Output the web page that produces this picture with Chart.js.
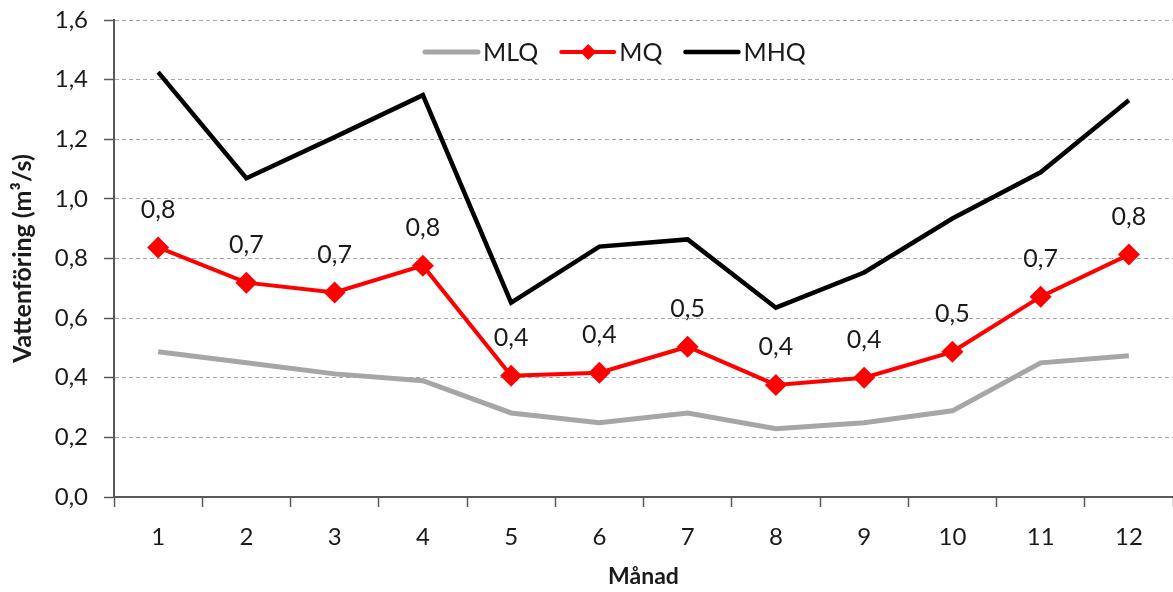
<!DOCTYPE html>
<html>
<head>
<meta charset="utf-8">
<script src="https://cdn.jsdelivr.net/npm/chart.js@4"></script>
<style>
  html, body { margin: 0; padding: 0; background: #fff; }
</style>
</head>
<body>
<canvas id="chart" width="1173" height="592"></canvas>
<script>
// Månad 1..12
const months = ['1', '2', '3', '4', '5', '6', '7', '8', '9', '10', '11', '12'];

// Vattenföring (m³/s)
const mlq = [0.487, 0.450, 0.413, 0.390, 0.282, 0.249, 0.282, 0.229, 0.249, 0.289, 0.450, 0.474];
const mq  = [0.837, 0.719, 0.686, 0.776, 0.407, 0.417, 0.504, 0.376, 0.400, 0.487, 0.672, 0.813];
const mhq = [1.425, 1.069, 1.207, 1.348, 0.652, 0.840, 0.864, 0.635, 0.753, 0.934, 1.089, 1.331];

const yTicks = [0, 0.2, 0.4, 0.6, 0.8, 1.0, 1.2, 1.4, 1.6];

const FONT = 'Lato, "Open Sans", sans-serif';
const AXIS = '#595959';

function fmt(v) {
    return v.toFixed(1).replace('.', ',');
}

// etiketter ovanför MQ-punkterna
const labelPlugin = {
    id: 'mqLabels',
    afterDatasetsDraw(chart) {
        const ctx = chart.ctx;
        const meta = chart.getDatasetMeta(1);
        ctx.save();
        ctx.font = '25px ' + FONT;
        ctx.fillStyle = '#1a1a1a';
        ctx.textAlign = 'center';
        ctx.textBaseline = 'middle';
        meta.data.forEach((pt, i) => {
            ctx.fillText(fmt(mq[i]), pt.x, pt.y - 38);
        });
        ctx.restore();
    }
};

// egen legend: linje (+ ruta för MQ) och text
const legendPlugin = {
    id: 'customLegend',
    afterDraw(chart) {
        const ctx = chart.ctx;
        const y = 52;
        let x = 425;
        ctx.save();
        ctx.font = '25px ' + FONT;
        ctx.textBaseline = 'middle';
        chart.data.datasets.forEach((ds) => {
            ctx.strokeStyle = ds.borderColor;
            ctx.lineWidth = ds.borderWidth;
            ctx.lineCap = 'round';
            ctx.beginPath();
            ctx.moveTo(x, y);
            ctx.lineTo(x + 53, y);
            ctx.stroke();
            if (ds.pointRadius > 0) {
                const cx = x + 27, r = 8;
                ctx.fillStyle = ds.borderColor;
                ctx.beginPath();
                ctx.moveTo(cx - r, y);
                ctx.lineTo(cx, y - r);
                ctx.lineTo(cx + r, y);
                ctx.lineTo(cx, y + r);
                ctx.closePath();
                ctx.fill();
            }
            x += 58;
            ctx.fillStyle = '#1a1a1a';
            ctx.fillText(ds.label, x, y + 1);
            x += ctx.measureText(ds.label).width + 23;
        });
        ctx.restore();
    }
};

new Chart(document.getElementById('chart'), {
    type: 'line',
    data: {
        labels: months,
        datasets: [
            {
                label: 'MLQ',
                data: mlq,
                borderColor: '#a6a6a6',
                backgroundColor: '#a6a6a6',
                borderWidth: 5,
                pointRadius: 0,
                tension: 0,
            },
            {
                label: 'MQ',
                data: mq,
                borderColor: '#ff0000',
                backgroundColor: '#ff0000',
                borderWidth: 4,
                pointStyle: 'rectRot',
                pointRadius: 11,
                pointHoverRadius: 11,
                pointBorderWidth: 0,
                tension: 0,
            },
            {
                label: 'MHQ',
                data: mhq,
                borderColor: '#000000',
                backgroundColor: '#000000',
                borderWidth: 4.5,
                pointRadius: 0,
                tension: 0,
            }
        ]
    },
    options: {
        responsive: false,
        animation: false,
        layout: {
            autoPadding: false,
            padding: { top: 20, right: 0, left: 0, bottom: 0 }
        },
        plugins: {
            legend: { display: false },
            tooltip: { enabled: false },
        },
        scales: {
            x: {
                offset: true,
                grid: {
                    display: true,
                    offset: true,
                    drawOnChartArea: false,
                    tickLength: 10,
                    tickColor: AXIS,
                    tickWidth: 1.5,
                },
                border: { color: AXIS, width: 2 },
                ticks: {
                    color: '#1a1a1a',
                    font: { family: FONT, size: 24 },
                    padding: 16,
                    maxRotation: 0,
                },
                title: {
                    display: true,
                    text: 'Månad',
                    color: '#1a1a1a',
                    font: { family: FONT, size: 23, weight: 'bold' },
                    padding: { top: 0, bottom: 2 },
                },
                afterFit(scale) {
                    scale.height = 95;
                    scale.paddingLeft = 0;
                    scale.paddingRight = 0;
                }
            },
            y: {
                min: 0,
                max: 1.6,
                afterBuildTicks(scale) {
                    scale.ticks = yTicks.map(v => ({ value: v }));
                },
                grid: {
                    color: '#a6a6a6',
                    lineWidth: 1,
                    tickLength: 10,
                    tickColor: AXIS,
                    tickWidth: 1.5,
                },
                border: { color: AXIS, width: 2, dash: [4, 3] },
                ticks: {
                    color: '#1a1a1a',
                    font: { family: FONT, size: 24 },
                    padding: 16,
                    callback: (v) => fmt(v),
                },
                title: {
                    display: true,
                    text: 'Vattenföring (m³/s)',
                    color: '#1a1a1a',
                    font: { family: FONT, size: 25, weight: 'bold' },
                    padding: { top: 8, bottom: 0 },
                },
                afterFit(scale) {
                    scale.width = 114;
                    scale.paddingTop = 0;
                    scale.paddingBottom = 0;
                }
            }
        }
    },
    plugins: [labelPlugin, legendPlugin]
});
</script>
</body>
</html>
